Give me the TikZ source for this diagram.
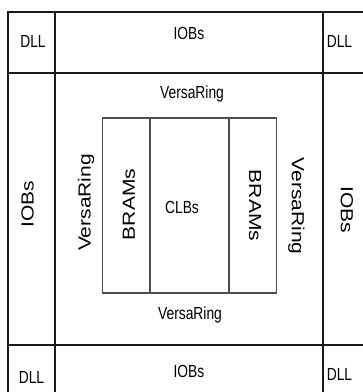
\documentclass[tikz,border=0pt]{standalone}
\usepackage{fontspec}
\setmainfont{Liberation Sans}
\begin{document}
\begin{tikzpicture}[x=1pt, y=-1pt, font=\fontsize{17.5}{19}\selectfont,
  grid/.style={line width=1.4pt, draw=black!90},
  block/.style={line width=1.1pt, draw=black!70},
  lbl/.style={inner sep=0pt, anchor=base, xscale=0.79},
  vlbl/.style={inner sep=0pt, rotate=#1, xscale=1.2}]
  \useasboundingbox (0,0) rectangle (363,392);
  % outer frame (cut off at right and bottom)
  \draw[grid] (8,392) |- (363,12);
  \draw[grid] (55,12) -- (55,392);
  \draw[grid] (323,12) -- (323,392);
  \draw[grid] (8,73) -- (363,73);
  \draw[grid] (8,345) -- (363,345);
  % core
  \draw[block] (102.5,118) rectangle (276.5,293);
  \draw[block] (150,118) -- (150,293);
  \draw[block] (229,118) -- (229,293);
  % labels
  \node[lbl] (dllTL) at (33,47) {DLL};
  \node[lbl] (iobTop) at (189,39) {IOBs};
  \node[lbl] (dllTR) at (339.5,47) {DLL};
  \node[lbl] (ringTop) at (192,98) {VersaRing};
  \node[lbl] (clbs) at (182,213) {CLBs};
  \node[lbl] (ringBot) at (190,319) {VersaRing};
  \node[lbl] (dllBL) at (31.5,383) {DLL};
  \node[lbl] (iobBot) at (189,377) {IOBs};
  \node[lbl] (dllBR) at (339.5,380) {DLL};
  \node[vlbl=90] (iobL) at (27.5,204) {IOBs};
  \node[vlbl=-90] (iobR) at (347,210) {IOBs};
  \node[vlbl=90] (ringL) at (86,202.5) {VersaRing};
  \node[vlbl=-90] (ringR) at (296.5,206) {VersaRing};
  \node[vlbl=90] (bramL) at (129,204.5) {BRAMs};
  \node[vlbl=-90] (bramR) at (255,205.5) {BRAMs};
\end{tikzpicture}
\end{document}
